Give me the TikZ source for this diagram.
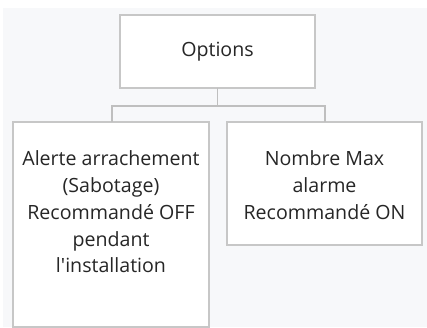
\documentclass[tikz,border=0pt]{standalone}
\usepackage{fontspec}
\setmainfont{Open Sans}
\begin{document}
\begin{tikzpicture}[x=1pt,y=-1pt,
  box/.style={draw=black!22,line width=1.2pt,fill=white,inner sep=0pt},
  lbl/.style={align=center,font=\fontsize{19.6}{26.7}\selectfont,text=black!85},
  conn/.style={draw=black!25,line width=1.2pt}]
\useasboundingbox (0,0) rectangle (427,328);
\fill[white] (0,0) rectangle (427,328);
\fill[fill={rgb,255:red,247;green,248;blue,250}] (3,8) rectangle (427,327);
% boxes
\draw[box] (120,15) rectangle (315,88);
\coordinate (optB) at (217.5,88);
\draw[box] (13,122) rectangle (209,327);
\draw[box] (227,122) rectangle (422,245);
\node[lbl] (opt) at (217.5,52) {Options};
\node[lbl] (left) at (111,212) {Alerte arrachement\\(Sabotage)\\Recommandé OFF\\pendant\\l\textquotesingle installation};
\node[lbl] (right) at (324.5,185) {Nombre Max\\alarme\\Recommandé ON};
\coordinate (hub) at (217.5,106);
\coordinate (lt) at (112,122);
\coordinate (rt) at (325,122);
\draw[conn] (optB) -- (hub);
\draw[conn] (lt) |- (hub) -| (rt);
\end{tikzpicture}
\end{document}
